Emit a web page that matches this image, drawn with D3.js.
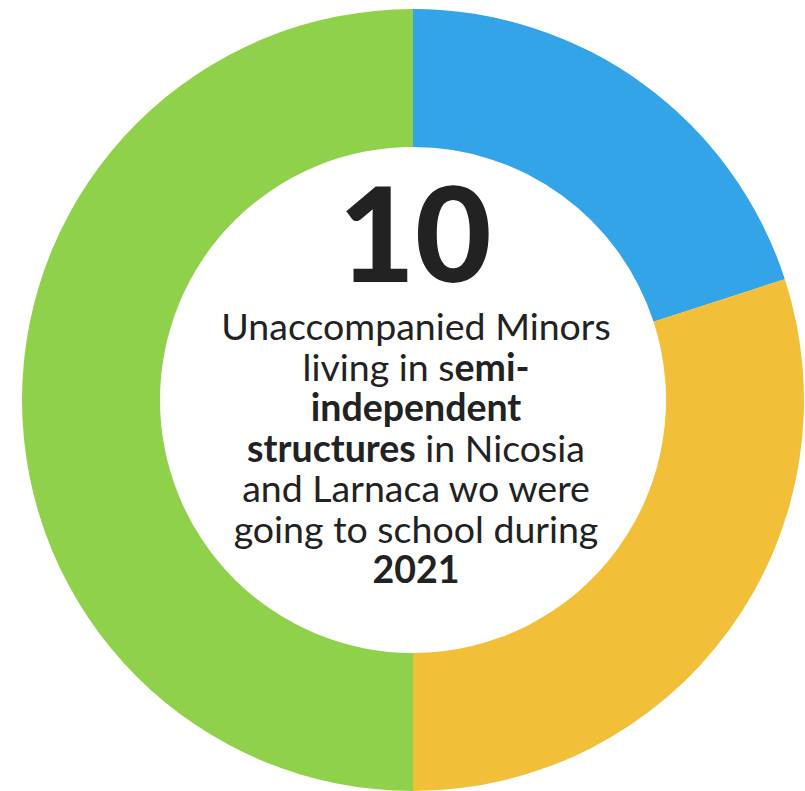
<!DOCTYPE html>
<html>
<head>
<meta charset="utf-8">
<script src="https://cdn.jsdelivr.net/npm/d3@7"></script>
<style>
  body { margin: 0; background: #fff; }
  svg { display: block; }
  text { font-family: Lato, "Noto Sans", sans-serif; fill: #222; }
</style>
</head>
<body>
<svg width="805" height="791"></svg>
<script>
// slices, clockwise from the top
var categories = ["Blue", "Yellow", "Green"];
var values = [2, 3, 5];
var colors = ["#33a4e7", "#f2bf38", "#8fd14b"];

var bigNumber = "10";
// each line is a list of [text, bold]
var lines = [
    [["Unaccompanied Minors", false]],
    [["living in s", false], ["emi-", true]],
    [["independent", true]],
    [["structures", true], [" in Nicosia", false]],
    [["and Larnaca wo were", false]],
    [["going to school during", false]],
    [["2021", true]]
];

var svg = d3.select("svg");
var cx = 413, cy = 400;
var outerR = 391, innerR = 253;

var pie = d3.pie().sort(null).value(function(d){ return d; });
var arc = d3.arc().innerRadius(innerR).outerRadius(outerR);

var g = svg.append("g").attr("transform", "translate(" + cx + "," + cy + ")");

g.selectAll("path")
    .data(pie(values))
    .enter().append("path")
    .attr("d", arc)
    .attr("fill", function(d, i){ return colors[i]; });

g.append("text")
    .attr("x", 2)
    .attr("y", -118)
    .attr("text-anchor", "middle")
    .attr("font-size", 132)
    .attr("font-weight", 900)
    .text(bigNumber);

var label = g.append("text")
    .attr("text-anchor", "middle")
    .attr("font-size", 37.5);

lines.forEach(function(line, i){
    var t = label.append("tspan")
        .attr("x", 3)
        .attr("y", -60 + i * 40.5);
    line.forEach(function(part){
        t.append("tspan")
            .attr("font-weight", part[1] ? 700 : 400)
            .text(part[0]);
    });
});
</script>
</body>
</html>
